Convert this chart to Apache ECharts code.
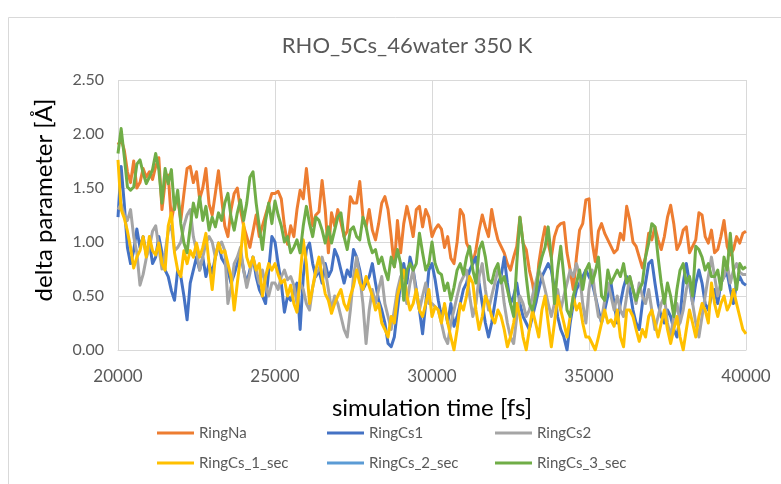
<!DOCTYPE html>
<html>
<head>
<meta charset="utf-8">
<script src="https://cdn.jsdelivr.net/npm/echarts@6/dist/echarts.min.js"></script>
<style>
html,body{margin:0;padding:0;background:#fff;}
#chart{width:781px;height:484px;}
</style>
</head>
<body>
<div id="chart"></div>
<script>
// simulation time [fs]
const times = [
20000,20100,20200,20300,20400,20500,20600,20700,20800,20900,
21000,21100,21200,21300,21400,21500,21600,21700,21800,21900,
22000,22100,22200,22300,22400,22500,22600,22700,22800,22900,
23000,23100,23200,23300,23400,23500,23600,23700,23800,23900,
24000,24100,24200,24300,24400,24500,24600,24700,24800,24900,
25000,25100,25200,25300,25400,25500,25600,25700,25800,25900,
26000,26100,26200,26300,26400,26500,26600,26700,26800,26900,
27000,27100,27200,27300,27400,27500,27600,27700,27800,27900,
28000,28100,28200,28300,28400,28500,28600,28700,28800,28900,
29000,29100,29200,29300,29400,29500,29600,29700,29800,29900,
30000,30100,30200,30300,30400,30500,30600,30700,30800,30900,
31000,31100,31200,31300,31400,31500,31600,31700,31800,31900,
32000,32100,32200,32300,32400,32500,32600,32700,32800,32900,
33000,33100,33200,33300,33400,33500,33600,33700,33800,33900,
34000,34100,34200,34300,34400,34500,34600,34700,34800,34900,
35000,35100,35200,35300,35400,35500,35600,35700,35800,35900,
36000,36100,36200,36300,36400,36500,36600,36700,36800,36900,
37000,37100,37200,37300,37400,37500,37600,37700,37800,37900,
38000,38100,38200,38300,38400,38500,38600,38700,38800,38900,
39000,39100,39200,39300,39400,39500,39600,39700,39800,39900,
40000
];

const ringNa = [
1.90,1.95,1.85,1.65,1.55,1.75,1.50,1.55,1.68,1.60,
1.65,1.58,1.70,1.78,1.30,1.55,1.62,1.20,1.35,1.40,
1.20,1.45,1.68,1.70,1.55,1.65,1.40,1.50,1.68,1.35,
1.25,1.45,1.66,1.40,1.15,1.05,1.30,1.45,1.50,1.30,
1.15,1.05,0.95,1.10,1.25,1.05,1.15,1.25,1.35,1.45,
1.45,1.47,1.40,1.15,0.98,1.15,1.05,1.30,1.48,1.40,
1.68,1.40,1.15,1.25,1.28,1.57,1.30,0.90,1.27,1.15,
1.30,1.18,1.05,1.10,1.42,1.36,1.36,1.56,1.23,1.14,
1.30,1.11,1.02,1.17,1.36,1.42,1.30,1.05,0.77,1.20,
0.90,1.17,1.33,1.20,1.05,1.30,1.33,1.14,1.30,1.23,
1.05,1.12,1.16,1.12,0.95,1.05,0.85,0.80,1.00,1.30,
1.25,0.99,0.93,0.80,0.93,1.11,1.25,1.14,1.05,1.30,
1.14,1.02,0.96,0.90,0.80,0.74,0.86,0.96,1.23,0.99,
0.93,0.74,0.62,0.43,0.80,0.99,1.14,0.99,0.86,1.05,
1.14,1.17,1.18,0.90,0.74,0.56,0.86,1.11,1.17,1.39,
1.40,1.00,0.82,1.10,1.17,1.08,1.02,0.96,0.90,0.93,
1.08,1.02,1.33,1.20,1.00,0.96,0.86,0.76,0.86,1.08,
1.02,1.14,1.02,0.93,1.05,1.23,1.34,1.17,0.93,0.99,
1.11,1.14,0.90,0.96,1.02,1.27,1.25,1.05,0.99,1.11,
0.90,0.93,1.05,1.20,0.96,0.88,0.93,1.05,0.99,1.08,
1.10
];

const ringCs1 = [
1.23,1.70,1.35,0.95,0.80,0.92,1.12,0.95,1.05,0.88,
1.00,0.80,0.86,1.05,0.90,0.74,0.68,0.55,0.46,0.74,
0.68,0.50,0.28,0.62,0.74,0.86,0.74,0.86,0.68,0.80,
0.71,0.86,0.99,0.85,0.80,0.74,0.62,0.70,0.80,0.90,
0.74,0.62,0.74,0.86,0.68,0.56,0.50,0.43,0.74,1.05,
1.00,0.80,0.62,0.35,0.50,0.46,0.55,0.62,0.19,0.68,
0.93,0.99,0.80,0.68,0.74,0.62,0.80,0.68,0.74,0.93,
0.86,0.74,0.62,0.74,0.68,0.93,0.86,0.74,0.56,0.62,
0.68,0.80,0.62,0.46,0.37,0.25,0.06,0.03,0.12,0.37,
0.62,0.80,0.62,0.86,0.74,0.56,0.37,0.15,0.43,0.74,
0.80,0.65,0.46,0.31,0.40,0.25,0.43,0.22,0.31,0.43,
0.56,0.62,0.74,0.80,0.86,0.62,0.43,0.25,0.12,0.25,
0.43,0.62,0.68,0.86,0.62,0.43,0.50,0.62,0.43,0.31,
0.25,0.19,0.31,0.43,0.56,0.68,0.74,0.80,0.74,0.56,
0.31,0.19,0.12,0.00,0.25,0.43,0.56,0.62,0.68,0.74,
0.68,0.62,0.50,0.37,0.25,0.37,0.50,0.62,0.43,0.25,
0.43,0.58,0.68,0.56,0.37,0.25,0.19,0.43,0.62,0.80,
0.83,0.62,0.43,0.31,0.25,0.37,0.31,0.19,0.12,0.31,
0.62,0.80,0.62,0.43,0.62,0.74,0.62,0.43,0.37,0.50,
0.56,0.43,0.62,0.68,0.71,0.56,0.43,0.62,0.68,0.62,
0.60
];

const ringCs2 = [
1.30,1.35,1.25,1.20,1.30,1.05,0.90,0.60,0.70,0.85,
0.95,1.10,1.15,0.95,0.75,0.90,1.10,1.15,0.92,0.95,
1.00,1.15,1.25,1.30,1.05,0.92,0.74,0.86,0.99,1.05,
1.00,0.86,0.95,1.00,0.92,0.43,0.58,0.80,0.86,0.95,
0.74,0.58,0.71,0.86,0.74,0.62,0.74,0.59,0.50,0.62,
0.62,0.56,0.68,0.74,0.65,0.68,0.60,0.43,0.62,0.56,
0.43,0.37,0.58,0.71,0.74,0.86,0.74,0.56,0.37,0.50,
0.43,0.31,0.19,0.12,0.37,0.68,0.86,0.68,0.43,0.06,
0.37,0.56,0.43,0.56,0.68,0.43,0.31,0.19,0.37,0.56,
0.68,0.56,0.43,0.62,0.74,0.50,0.37,0.50,0.62,0.43,
0.43,0.40,0.37,0.25,0.12,0.06,0.25,0.37,0.50,0.62,
0.68,0.74,0.50,0.31,0.43,0.68,0.80,0.56,0.37,0.50,
0.62,0.74,0.68,0.43,0.25,0.12,0.06,0.31,0.50,0.43,
0.31,0.37,0.50,0.62,0.74,0.68,0.56,0.43,0.31,0.43,
0.56,0.37,0.50,0.62,0.74,0.68,0.80,0.70,0.43,0.25,
0.56,0.74,0.50,0.31,0.28,0.46,0.62,0.50,0.37,0.50,
0.37,0.31,0.50,0.68,0.56,0.43,0.62,0.50,0.43,0.56,
0.37,0.19,0.31,0.43,0.50,0.25,0.12,0.31,0.43,0.25,
0.37,0.56,0.68,0.43,0.25,0.12,0.31,0.50,0.68,0.86,
0.68,0.50,0.62,0.68,0.80,0.62,0.74,0.80,0.72,0.70,
0.70
];

const ringCs1Sec = [
1.76,1.30,1.22,1.10,0.95,0.76,0.86,0.92,1.05,0.86,
1.05,0.92,0.88,0.99,0.80,0.74,1.15,1.27,0.90,0.74,
0.68,0.92,0.80,0.92,0.86,0.99,0.86,0.95,1.08,0.80,
0.56,0.86,0.99,0.90,0.92,0.80,0.68,0.37,0.62,0.86,
1.17,0.86,0.77,0.86,0.74,0.80,0.50,0.68,0.80,0.74,
0.80,0.70,0.62,0.65,0.50,0.60,0.43,0.35,0.68,1.02,
0.80,0.43,0.58,0.74,0.86,0.68,0.52,0.46,0.34,0.43,
0.50,0.56,0.43,0.37,0.50,0.59,0.74,0.62,0.56,0.68,
0.59,0.50,0.37,0.43,0.25,0.19,0.12,0.31,0.25,0.50,
0.62,0.74,0.50,0.37,0.43,0.56,0.37,0.31,0.43,0.56,
0.31,0.40,0.37,0.25,0.43,0.25,0.12,0.00,0.19,0.43,
0.37,0.50,0.68,0.62,0.37,0.19,0.31,0.50,0.43,0.31,
0.25,0.37,0.31,0.19,0.03,0.12,0.25,0.43,0.31,0.12,
0.00,0.19,0.37,0.25,0.12,0.37,0.50,0.25,0.03,0.25,
0.50,0.37,0.25,0.12,0.31,0.50,0.37,0.43,0.25,0.12,
0.12,0.06,0.00,0.12,0.25,0.37,0.25,0.28,0.22,0.37,
0.12,0.03,0.37,0.37,0.31,0.19,0.08,0.19,0.12,0.31,
0.37,0.25,0.12,0.25,0.37,0.19,0.06,0.19,0.31,0.12,
0.00,0.19,0.37,0.25,0.12,0.31,0.43,0.37,0.25,0.62,
0.43,0.31,0.43,0.50,0.37,0.43,0.56,0.43,0.31,0.19,
0.15
];

// RingCs_2_sec is listed in the legend but its line is not visible in the picture
const ringCs2Sec = [];

const ringCs3Sec = [
1.82,2.05,1.79,1.51,1.48,1.51,1.72,1.76,1.64,1.54,
1.60,1.67,1.82,1.67,1.36,1.68,1.54,1.67,1.30,1.48,
1.17,0.99,0.90,1.14,1.36,1.23,1.42,1.20,1.33,1.11,
1.23,1.14,1.27,1.20,1.36,1.45,1.23,1.11,1.27,1.39,
1.20,1.36,1.60,1.65,1.36,1.14,0.93,1.20,1.36,1.17,
1.38,1.25,1.15,1.00,1.05,0.90,0.95,1.02,0.90,1.15,
1.33,1.17,1.05,1.23,1.20,1.11,0.99,1.14,0.99,1.11,
1.23,1.27,1.05,0.93,1.11,1.14,1.05,1.02,1.23,1.14,
0.99,0.90,0.93,0.80,0.86,0.74,0.65,0.86,0.77,0.93,
0.80,0.46,0.74,0.80,0.74,0.80,1.08,0.90,0.74,0.80,
1.00,0.80,0.72,0.70,0.55,0.62,0.46,0.58,0.74,0.80,
0.70,0.86,0.96,0.74,0.62,0.93,1.00,0.86,0.65,0.62,
0.74,0.80,0.62,0.68,0.56,0.43,0.31,0.80,1.23,0.99,
0.68,0.43,0.37,0.50,0.74,0.86,0.95,1.14,0.86,0.43,
0.74,0.96,0.68,0.37,0.31,0.50,0.62,0.74,0.56,0.74,
0.80,0.62,0.72,0.86,0.50,0.46,0.74,0.62,0.68,0.74,
0.68,0.80,0.62,0.68,0.56,0.46,0.56,0.62,0.86,0.99,
1.17,1.14,0.86,0.62,0.43,0.62,0.50,0.31,0.56,0.74,
0.80,0.62,0.68,0.50,0.96,0.93,0.86,0.74,0.80,0.68,
0.68,0.74,0.56,0.86,0.74,1.08,0.74,0.56,0.80,0.75,
0.77
];

const seriesNames = ['RingNa','RingCs1','RingCs2','RingCs_1_sec','RingCs_2_sec','RingCs_3_sec'];
const seriesValues = [ringNa, ringCs1, ringCs2, ringCs1Sec, ringCs2Sec, ringCs3Sec];
const seriesColors = ['#ED7D31','#4472C4','#A5A5A5','#FFC000','#5B9BD5','#70AD47'];

const FONT = 'Lato';
const chart = echarts.init(document.getElementById('chart'), null, {renderer:'canvas'});

const legendPos = [[157,424],[327,424],[495,424],[157,454],[327,454],[495,454]];

const option = {
  backgroundColor:'#ffffff',
  animation:false,
  title:{
    text:'RHO_5Cs_46water 350 K',
    left:402, top:30, textAlign:'center',
    textStyle:{fontFamily:FONT, fontSize:22, fontWeight:'normal', color:'#595959'}
  },
  graphic:[{
    type:'rect', z:-10, silent:true,
    shape:{x:8.5, y:17.5, width:790, height:480},
    style:{fill:'none', stroke:'#D9D9D9', lineWidth:1}
  },{
    type:'text', x:44, y:200, rotation:Math.PI/2, silent:true,
    style:{text:'delta parameter [Å]', fontFamily:FONT, fontSize:24, fill:'#000000',
      align:'center', verticalAlign:'middle'}
  }],
  legend: seriesNames.map((n,i)=>({
    data:[n], left:legendPos[i][0], top:legendPos[i][1], padding:0,
    icon:'rect', itemWidth:37, itemHeight:3,
    textStyle:{fontFamily:FONT, fontSize:15, color:'#595959', lineHeight:18},
    selectedMode:false
  })),
  grid:{left:118, right:35, top:80, bottom:134, containLabel:false},
  xAxis:{
    type:'value', min:20000, max:40000, interval:5000,
    name:'simulation time [fs]', nameLocation:'middle', nameGap:46,
    nameTextStyle:{fontFamily:FONT, fontSize:24, color:'#000000'},
    axisLine:{show:true, lineStyle:{color:'#D9D9D9', width:1}},
    axisTick:{show:false},
    axisLabel:{fontFamily:FONT, fontSize:17, color:'#595959', margin:18,
      formatter:(v)=>String(v)},
    splitLine:{show:true, lineStyle:{color:'#D9D9D9', width:1}}
  },
  yAxis:{
    type:'value', min:0, max:2.5, interval:0.5,
    axisLine:{show:false}, axisTick:{show:false},
    axisLabel:{fontFamily:FONT, fontSize:16, color:'#595959', margin:14,
      formatter:(v)=>v.toFixed(2)},
    splitLine:{show:true, lineStyle:{color:'#D9D9D9', width:1}}
  },
  series: seriesNames.map((n,i)=>({
    name:n, type:'line',
    data: seriesValues[i].map((v,j)=>[times[j], v]),
    showSymbol:false, symbol:'none', smooth:false, clip:true,
    lineStyle:{color:seriesColors[i], width:3, join:'round'},
    itemStyle:{color:seriesColors[i]},
    z:2+i
  }))
};
chart.setOption(option);
</script>
</body>
</html>
